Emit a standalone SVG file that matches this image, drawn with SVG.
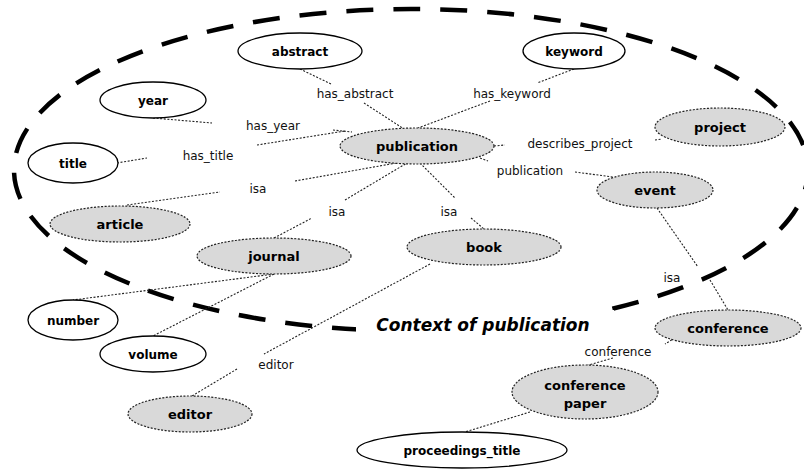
<svg xmlns="http://www.w3.org/2000/svg" width="804" height="470" viewBox="0 0 804 470">
  <style>
    .bg { fill: #ffffff; }
    .context { fill: none; stroke: #000; stroke-width: 4.5; stroke-dasharray: 27 20; stroke-dashoffset: 7; }
    .ctx-label { font-family: "DejaVu Sans", Verdana, sans-serif; font-size: 17px; font-weight: bold; font-style: italic; fill: #000; }
    .edge { fill: none; stroke: #222; stroke-width: 1.1; stroke-dasharray: 2 1.6; }
    .elabel { font-family: "DejaVu Sans", Verdana, sans-serif; font-size: 12px; fill: #111; text-anchor: middle; }
    .attr ellipse { fill: #fff; stroke: #000; stroke-width: 1.3; }
    .attr text { font-family: "DejaVu Sans", Verdana, sans-serif; font-size: 12px; font-weight: bold; fill: #000; text-anchor: middle; }
    .concept ellipse { fill: #d9d9d9; stroke: #222; stroke-width: 1.2; stroke-dasharray: 2 1.5; }
    .concept text { font-family: "DejaVu Sans", Verdana, sans-serif; font-size: 13px; font-weight: bold; fill: #000; text-anchor: middle; }
  </style>

  <rect class="bg" x="0" y="0" width="804" height="470"/>

  <!-- context boundary -->
  <g id="context">
    <ellipse class="context" cx="411" cy="170" rx="397" ry="161"/>
    <rect class="bg" x="356" y="310" width="258" height="30"/>
    <text class="ctx-label" x="483" y="331" text-anchor="middle">Context of publication</text>
  </g>

  <!-- connectors -->
  <g id="connectors">
    <path class="edge" d="M300,69 L331,84 M364,103 L404,129"/>
    <path class="edge" d="M574,69 L537,83 M490,101 L418,128"/>
    <path class="edge" d="M153,118 L212,123 M333,130 L352,132"/>
    <path class="edge" d="M117,163 L147,158 M257,145 L345,131"/>
    <path class="edge" d="M127,205 L220,192 M295,181 L402,162"/>
    <path class="edge" d="M274,238 L312,218 M345,200 L407,163"/>
    <path class="edge" d="M420,163 L455,198 M471,218 L484,229"/>
    <path class="edge" d="M494,146 L505,145 M655,140 L662,139"/>
    <path class="edge" d="M480,158 L488,161 M575,172 L613,177"/>
    <path class="edge" d="M657,208 L698,267 M710,280 L728,310"/>
    <path class="edge" d="M678,336 L665,344 M613,358 L585,366"/>
    <path class="edge" d="M530,412 L465,432"/>
    <path class="edge" d="M274,274 L73,300"/>
    <path class="edge" d="M274,274 L153,336"/>
    <path class="edge" d="M430,264 L264,354 M237,369 L192,396"/>

    <text class="elabel" x="355" y="97.5">has_abstract</text>
    <text class="elabel" x="512" y="97.5">has_keyword</text>
    <text class="elabel" x="273" y="129.5">has_year</text>
    <text class="elabel" x="208" y="159.5">has_title</text>
    <text class="elabel" x="258" y="192.5">isa</text>
    <text class="elabel" x="337" y="215.5">isa</text>
    <text class="elabel" x="449" y="215.5">isa</text>
    <text class="elabel" x="580" y="147.5">describes_project</text>
    <text class="elabel" x="530" y="174.5">publication</text>
    <text class="elabel" x="672" y="281.5">isa</text>
    <text class="elabel" x="618" y="355.5">conference</text>
    <text class="elabel" x="276" y="368.5">editor</text>
  </g>

  <!-- attribute nodes -->
  <g id="abstract" class="attr"><ellipse cx="300" cy="51" rx="62" ry="18"/><text x="300" y="55.5">abstract</text></g>
  <g id="keyword" class="attr"><ellipse cx="574" cy="51" rx="51" ry="18"/><text x="574" y="55.5">keyword</text></g>
  <g id="year" class="attr"><ellipse cx="153" cy="100" rx="53" ry="18"/><text x="153" y="104.5">year</text></g>
  <g id="title" class="attr"><ellipse cx="73" cy="163" rx="45" ry="20"/><text x="73" y="167.5">title</text></g>
  <g id="number" class="attr"><ellipse cx="73" cy="320" rx="45" ry="20"/><text x="73" y="324.5">number</text></g>
  <g id="volume" class="attr"><ellipse cx="153" cy="354" rx="53" ry="18"/><text x="153" y="358.5">volume</text></g>
  <g id="proceedings_title" class="attr"><ellipse cx="462" cy="450" rx="105" ry="18"/><text x="462" y="454.5">proceedings_title</text></g>

  <!-- concept nodes -->
  <g id="publication" class="concept"><ellipse cx="417" cy="146" rx="77" ry="18"/><text x="417" y="151">publication</text></g>
  <g id="project" class="concept"><ellipse cx="720" cy="127" rx="65" ry="19"/><text x="720" y="132">project</text></g>
  <g id="event" class="concept"><ellipse cx="655" cy="190" rx="58" ry="18"/><text x="655" y="195">event</text></g>
  <g id="article" class="concept"><ellipse cx="120" cy="224" rx="70" ry="18"/><text x="120" y="229">article</text></g>
  <g id="journal" class="concept"><ellipse cx="274" cy="256" rx="77" ry="18"/><text x="274" y="261">journal</text></g>
  <g id="book" class="concept"><ellipse cx="484" cy="247" rx="77" ry="18"/><text x="484" y="252">book</text></g>
  <g id="editor" class="concept"><ellipse cx="190" cy="414" rx="62" ry="18"/><text x="190" y="419">editor</text></g>
  <g id="conference" class="concept"><ellipse cx="728" cy="328" rx="73" ry="18"/><text x="728" y="333">conference</text></g>
  <g id="conference_paper" class="concept"><ellipse cx="585" cy="392" rx="73" ry="27"/><text x="585" y="390">conference</text><text x="585" y="408">paper</text></g>
</svg>
